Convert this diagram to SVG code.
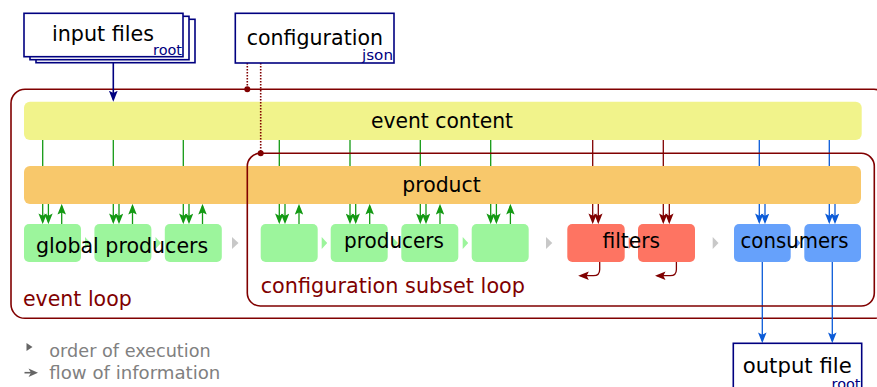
<svg xmlns="http://www.w3.org/2000/svg" width="877" height="387" viewBox="0 0 877 387">
<defs>
<style>
text{font-family:"DejaVu Sans","Liberation Sans",sans-serif;}
.lbl{font-size:20.5px;fill:#000;}
.sub{font-size:14px;fill:#000080;}
.loop{fill:none;stroke:#800000;stroke-width:1.6;}
.looptxt{font-size:20.5px;fill:#800000;}
.file{fill:#fff;stroke:#000080;stroke-width:1.6;}
.prod{fill:#9cf59c;}
.filt{fill:#fe7462;}
.cons{fill:#66a1fb;}
.ord{fill:#c8c8c8;}
.g{stroke:#139913;stroke-width:1.3;fill:none;}
.r{stroke:#800000;stroke-width:1.3;fill:none;}
.b{stroke:#0b5bd8;stroke-width:1.3;fill:none;}
.n{stroke:#000080;stroke-width:1.6;fill:none;}
.dot{stroke:#800000;stroke-width:1.6;stroke-dasharray:1.5 1.5;fill:none;}
.leg{font-size:17.5px;fill:#808080;}
</style>
<marker id="ag" viewBox="0 0 10 8" refX="8" refY="4" markerWidth="11" markerHeight="8.5" markerUnits="userSpaceOnUse" orient="auto"><path d="M0,0 L10,4 L0,8 L2,4 z" fill="#139913"/></marker>
<marker id="ar" viewBox="0 0 10 8" refX="8" refY="4" markerWidth="11" markerHeight="8.5" markerUnits="userSpaceOnUse" orient="auto"><path d="M0,0 L10,4 L0,8 L2,4 z" fill="#800000"/></marker>
<marker id="ab" viewBox="0 0 10 8" refX="8" refY="4" markerWidth="11" markerHeight="8.5" markerUnits="userSpaceOnUse" orient="auto"><path d="M0,0 L10,4 L0,8 L2,4 z" fill="#0b5bd8"/></marker>
<marker id="an" viewBox="0 0 10 8" refX="8" refY="4" markerWidth="11" markerHeight="10" markerUnits="userSpaceOnUse" orient="auto"><path d="M0,0 L10,4 L0,8 L2,4 z" fill="#000080"/></marker>
</defs>

<g id="event-loop">
<rect class="loop" x="11" y="89.3" width="877" height="229" rx="14"/>
<text class="looptxt" x="23" y="306" textLength="108.7" lengthAdjust="spacingAndGlyphs">event loop</text>
</g>

<g id="event-content">
<rect x="24" y="101.7" width="837.7" height="38.3" rx="6" fill="#f1f38b"/>
<text class="lbl" x="371" y="127.5" textLength="142" lengthAdjust="spacingAndGlyphs">event content</text>
</g>

<g id="connectors">
<line class="n" x1="113.3" y1="62.5" x2="113.3" y2="99.5" marker-end="url(#an)"/>
<line class="dot" x1="247.3" y1="63" x2="247.3" y2="89.3"/>
<line class="dot" x1="260.7" y1="63" x2="260.7" y2="153.3"/>
<circle cx="247.3" cy="89.3" r="3" fill="#800000"/>
<circle cx="260.7" cy="153.3" r="3" fill="#800000"/>
<g class="g">
<line x1="42.7" y1="140" x2="42.7" y2="222" marker-end="url(#ag)"/>
<line x1="48.4" y1="204" x2="48.4" y2="222" marker-end="url(#ag)"/>
<line x1="61.7" y1="224" x2="61.7" y2="206" marker-end="url(#ag)"/>
<line x1="113.3" y1="140" x2="113.3" y2="222" marker-end="url(#ag)"/>
<line x1="119" y1="204" x2="119" y2="222" marker-end="url(#ag)"/>
<line x1="132.5" y1="224" x2="132.5" y2="206" marker-end="url(#ag)"/>
<line x1="183.3" y1="140" x2="183.3" y2="222" marker-end="url(#ag)"/>
<line x1="189" y1="204" x2="189" y2="222" marker-end="url(#ag)"/>
<line x1="202.5" y1="224" x2="202.5" y2="206" marker-end="url(#ag)"/>
<line x1="279.3" y1="140" x2="279.3" y2="222" marker-end="url(#ag)"/>
<line x1="285" y1="204" x2="285" y2="222" marker-end="url(#ag)"/>
<line x1="299" y1="224" x2="299" y2="206" marker-end="url(#ag)"/>
<line x1="350" y1="140" x2="350" y2="222" marker-end="url(#ag)"/>
<line x1="355.7" y1="204" x2="355.7" y2="222" marker-end="url(#ag)"/>
<line x1="369.7" y1="224" x2="369.7" y2="206" marker-end="url(#ag)"/>
<line x1="420.3" y1="140" x2="420.3" y2="222" marker-end="url(#ag)"/>
<line x1="426" y1="204" x2="426" y2="222" marker-end="url(#ag)"/>
<line x1="440" y1="224" x2="440" y2="206" marker-end="url(#ag)"/>
<line x1="490.7" y1="140" x2="490.7" y2="222" marker-end="url(#ag)"/>
<line x1="496.4" y1="204" x2="496.4" y2="222" marker-end="url(#ag)"/>
<line x1="510.4" y1="224" x2="510.4" y2="206" marker-end="url(#ag)"/>
</g>
<g class="r">
<line x1="592.7" y1="140" x2="592.7" y2="222" marker-end="url(#ar)"/>
<line x1="598.3" y1="204" x2="598.3" y2="222" marker-end="url(#ar)"/>
<line x1="663.3" y1="140" x2="663.3" y2="222" marker-end="url(#ar)"/>
<line x1="669.3" y1="204" x2="669.3" y2="222" marker-end="url(#ar)"/>
<path d="M599.7,262 V269.5 Q599.7,275.7 593.5,275.7 H580.3" marker-end="url(#ar)"/>
<path d="M676.4,262 V269.5 Q676.4,275.7 670.2,275.7 H657" marker-end="url(#ar)"/>
</g>
<g class="b">
<line x1="759.3" y1="140" x2="759.3" y2="222" marker-end="url(#ab)"/>
<line x1="765" y1="204" x2="765" y2="222" marker-end="url(#ab)"/>
<line x1="829.3" y1="140" x2="829.3" y2="222" marker-end="url(#ab)"/>
<line x1="835" y1="204" x2="835" y2="222" marker-end="url(#ab)"/>
<line x1="762.3" y1="262" x2="762.3" y2="341" marker-end="url(#ab)"/>
<line x1="832.3" y1="262" x2="832.3" y2="341" marker-end="url(#ab)"/>
</g>
<polygon class="prod" points="85,237 90.5,243 85,249"/>
<polygon class="prod" points="155.5,237 161,243 155.5,249"/>
<polygon class="ord" points="232,237 238.5,243 232,249"/>
<polygon class="prod" points="321.7,237 327.2,243 321.7,249"/>
<polygon class="prod" points="392.4,237 397.9,243 392.4,249"/>
<polygon class="prod" points="462.7,237 468.2,243 462.7,249"/>
<polygon class="ord" points="546,237 552.3,243 546,249"/>
<polygon class="filt" points="628.7,237 634.2,243 628.7,249"/>
<polygon class="ord" points="712.7,237 718.5,243 712.7,249"/>
<polygon class="cons" points="795,237 800.5,243 795,249"/>
</g>

<g id="product">
<rect x="24" y="166" width="837" height="38" rx="6" fill="#f8c86b"/>
<text class="lbl" x="402.3" y="191.7" textLength="78.4" lengthAdjust="spacingAndGlyphs">product</text>
</g>

<g id="global-producers">
<rect class="prod" x="24" y="224" width="57" height="38" rx="5"/>
<rect class="prod" x="94.4" y="224" width="57" height="38" rx="5"/>
<rect class="prod" x="164.8" y="224" width="57" height="38" rx="5"/>
<text class="lbl" x="36" y="253" textLength="172.3" lengthAdjust="spacingAndGlyphs">global producers</text>
</g>

<g id="producers">
<rect class="prod" x="260.7" y="224" width="57" height="38" rx="5"/>
<rect class="prod" x="330.7" y="224" width="57" height="38" rx="5"/>
<rect class="prod" x="401.3" y="224" width="57" height="38" rx="5"/>
<rect class="prod" x="471.7" y="224" width="57" height="38" rx="5"/>
<text class="lbl" x="344" y="248" textLength="100" lengthAdjust="spacingAndGlyphs">producers</text>
</g>

<g id="filters">
<rect class="filt" x="567.3" y="224" width="57.4" height="38" rx="5"/>
<rect class="filt" x="638" y="224" width="57" height="38" rx="5"/>
<text class="lbl" x="602.5" y="248.3" textLength="57.5" lengthAdjust="spacingAndGlyphs">filters</text>
</g>

<g id="consumers">
<rect class="cons" x="734" y="224" width="56.7" height="38" rx="5"/>
<rect class="cons" x="804.3" y="224" width="56.7" height="38" rx="5"/>
<text class="lbl" x="740.5" y="248.3" textLength="108" lengthAdjust="spacingAndGlyphs">consumers</text>
</g>

<g id="configuration-subset-loop">
<rect class="loop" x="247.3" y="153.3" width="627" height="152.7" rx="13"/>
<text class="looptxt" x="260.7" y="293" textLength="264.3" lengthAdjust="spacingAndGlyphs">configuration subset loop</text>
</g>

<g id="input-files">
<rect class="file" x="36" y="19.3" width="159" height="43.4"/>
<rect class="file" x="30" y="16.3" width="159" height="43.4"/>
<rect class="file" x="24" y="13.3" width="159" height="43.4"/>
<text class="lbl" x="52" y="41" textLength="102" lengthAdjust="spacingAndGlyphs">input files</text>
<text class="sub" x="153" y="55" textLength="29" lengthAdjust="spacingAndGlyphs">root</text>
</g>

<g id="configuration">
<rect class="file" x="235.3" y="13.3" width="158.7" height="49.7"/>
<text class="lbl" x="246.7" y="45" textLength="136.3" lengthAdjust="spacingAndGlyphs">configuration</text>
<text class="sub" x="362" y="59.5" textLength="31" lengthAdjust="spacingAndGlyphs">json</text>
</g>

<g id="output-file">
<rect class="file" x="733.3" y="343.3" width="128.4" height="60"/>
<text class="lbl" x="742.7" y="373" textLength="109" lengthAdjust="spacingAndGlyphs">output file</text>
<text class="sub" x="831.5" y="388.5" textLength="29" lengthAdjust="spacingAndGlyphs">root</text>
</g>

<g id="legend">
<polygon points="26.5,343 32.5,347 26.5,351" fill="#666"/>
<text class="leg" x="49.3" y="356.7" textLength="161.4" lengthAdjust="spacingAndGlyphs">order of execution</text>
<line x1="24.5" y1="372.7" x2="31" y2="372.7" stroke="#666" stroke-width="1.6"/>
<path d="M38,372.7 L28.5,368.5 L31,372.7 L28.5,376.9 z" fill="#666"/>
<text class="leg" x="49.3" y="379" textLength="171" lengthAdjust="spacingAndGlyphs">flow of information</text>
</g>
</svg>
